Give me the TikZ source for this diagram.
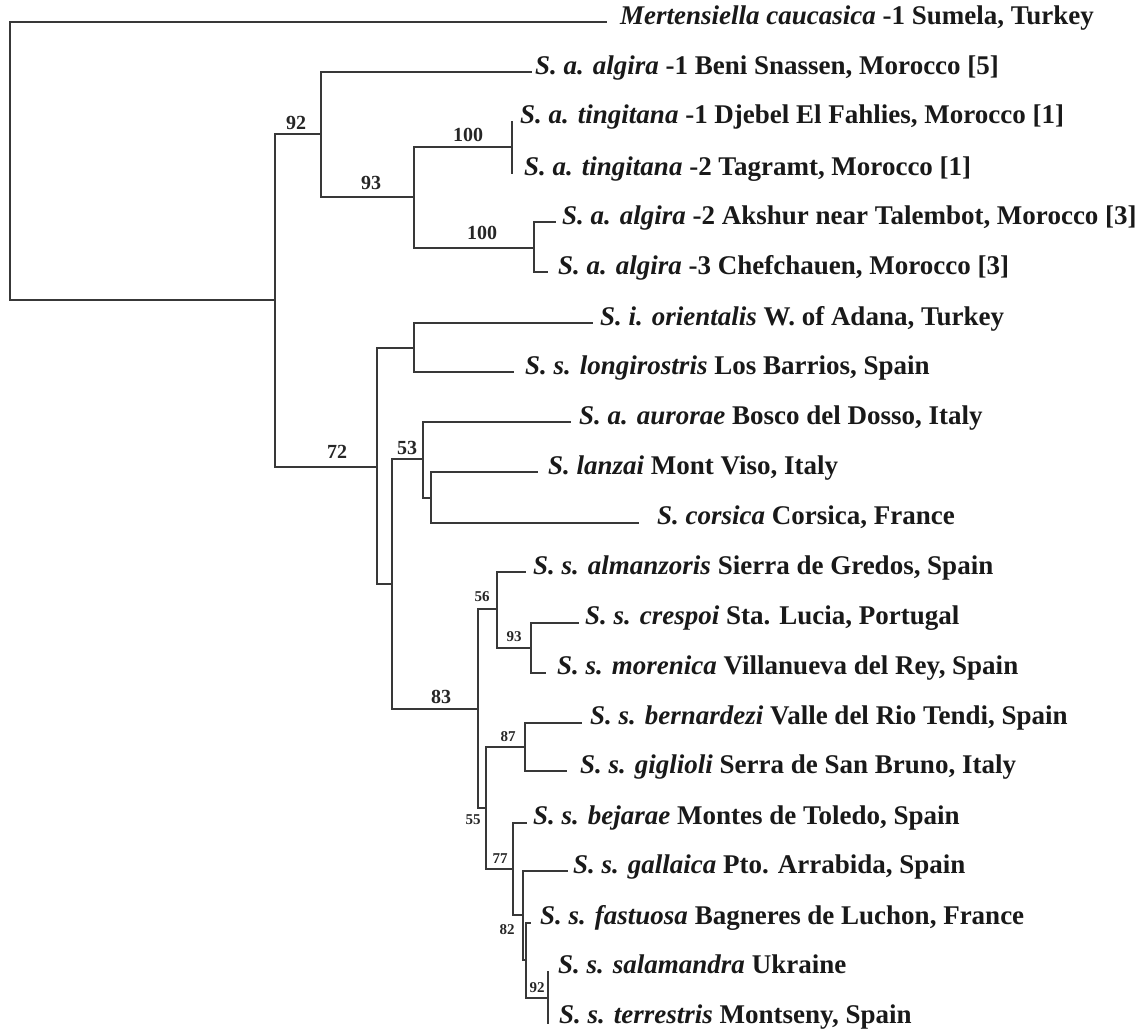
\documentclass[tikz,border=0pt]{standalone}
\usepackage{fontspec}
\setmainfont{Liberation Serif}
\begin{document}
\begin{tikzpicture}[x=1pt,y=-1pt,
  br/.style={draw=black!78, line width=2.4pt, line cap=rect},
  lbl/.style={anchor=mid west, inner sep=0pt, text=black!90, font=\fontsize{27}{30}\selectfont\bfseries},
  lblb/.style={lbl, anchor=base west},
  bs/.style={inner sep=0pt, text=black!85, font=\fontsize{20}{22}\selectfont\bfseries},
  bss/.style={inner sep=0pt, text=black!85, font=\fontsize{15}{17}\selectfont\bfseries}]
\useasboundingbox (0,0) rectangle (1146,1036);
% internal nodes
\coordinate (R) at (10,161);
\coordinate (A) at (275,300);
\coordinate (B) at (321,134);
\coordinate (C) at (414,197);
\coordinate (T) at (512,147);
\coordinate (Q) at (534,248);
\coordinate (D) at (377,467);
\coordinate (E) at (414,348);
\coordinate (F) at (392,584);
\coordinate (G) at (423,459);
\coordinate (H) at (431,498);
\coordinate (I) at (478,709);
\coordinate (J) at (497,609);
\coordinate (K) at (531,648);
\coordinate (U) at (486,808);
\coordinate (L) at (525,747);
\coordinate (M) at (513,869);
\coordinate (N) at (523,915);
\coordinate (P) at (526,960);
\coordinate (O) at (548,998);
% leaves
\coordinate (mert) at (606,22);
\coordinate (alg1) at (531,72);
\coordinate (ting1) at (512,122);
\coordinate (ting2) at (512,173);
\coordinate (alg2) at (555,222);
\coordinate (alg3) at (547,272);
\coordinate (ori) at (592,323);
\coordinate (lon) at (513,372);
\coordinate (aur) at (570,422);
\coordinate (lan) at (537,472);
\coordinate (cor) at (638,523);
\coordinate (alm) at (525,572);
\coordinate (cre) at (578,623);
\coordinate (mor) at (545,673);
\coordinate (ber) at (581,723);
\coordinate (gig) at (566,771);
\coordinate (bej) at (526,823);
\coordinate (gal) at (567,871);
\coordinate (fas) at (530,923);
\coordinate (sal) at (548,972);
\coordinate (ter) at (548,1023);
% branches
\draw[br] (mert) -| (R) |- (A);
\draw[br] (B) -| (A) |- (D);
\draw[br] (alg1) -| (B) |- (C);
\draw[br] (T) -| (C) |- (Q);
\draw[br] (ting1) -- (ting2);
\draw[br] (alg2) -| (Q) |- (alg3);
\draw[br] (E) -| (D) |- (F);
\draw[br] (ori) -| (E) |- (lon);
\draw[br] (G) -| (F) |- (I);
\draw[br] (aur) -| (G) |- (H);
\draw[br] (lan) -| (H) |- (cor);
\draw[br] (J) -| (I) |- (U);
\draw[br] (alm) -| (J) |- (K);
\draw[br] (cre) -| (K) |- (mor);
\draw[br] (L) -| (U) |- (M);
\draw[br] (ber) -| (L) |- (gig);
\draw[br] (bej) -| (M) |- (N);
\draw[br] (gal) -| (N) |- (P);
\draw[br] (fas) -| (P) |- (O);
\draw[br] (sal) -- (ter);
% taxon labels
\node[lbl] (tmert) at (620,22) {\textit{Mertensiella caucasica} -1 Sumela, Turkey};
\node[lbl] (talg1) at (535,72) {\textit{S. a. algira} -1 Beni Snassen, Morocco [5]};
\node[lblb] (tting1) at (520,123) {\textit{S. a. tingitana} -1 Djebel El Fahlies, Morocco [1]};
\node[lblb] (tting2) at (524,175) {\textit{S. a. tingitana} -2 Tagramt, Morocco [1]};
\node[lbl] (talg2) at (562,222) {\textit{S. a. algira} -2 Akshur near Talembot, Morocco [3]};
\node[lbl] (talg3) at (558,272) {\textit{S. a. algira} -3 Chefchauen, Morocco [3]};
\node[lbl] (tori) at (600,323) {\textit{S. i. orientalis} W. of Adana, Turkey};
\node[lbl] (tlon) at (525,372) {\textit{S. s. longirostris} Los Barrios, Spain};
\node[lbl] (taur) at (579,422) {\textit{S. a. aurorae} Bosco del Dosso, Italy};
\node[lbl] (tlan) at (548,472) {\textit{S. lanzai} Mont Viso, Italy};
\node[lbl] (tcor) at (657,522) {\textit{S. corsica} Corsica, France};
\node[lbl] (talm) at (533,572) {\textit{S. s. almanzoris} Sierra de Gredos, Spain};
\node[lbl] (tcre) at (585,622) {\textit{S. s. crespoi} Sta. Lucia, Portugal};
\node[lbl] (tmor) at (557,672) {\textit{S. s. morenica} Villanueva del Rey, Spain};
\node[lbl] (tber) at (590,722) {\textit{S. s. bernardezi} Valle del Rio Tendi, Spain};
\node[lbl] (tgig) at (580,771) {\textit{S. s. giglioli} Serra de San Bruno, Italy};
\node[lbl] (tbej) at (533,822) {\textit{S. s. bejarae} Montes de Toledo, Spain};
\node[lbl] (tgal) at (573,871) {\textit{S. s. gallaica} Pto. Arrabida, Spain};
\node[lbl] (tfas) at (540,922) {\textit{S. s. fastuosa} Bagneres de Luchon, France};
\node[lbl] (tsal) at (558,971) {\textit{S. s. salamandra} Ukraine};
\node[lbl] (tter) at (559,1021) {\textit{S. s. terrestris} Montseny, Spain};
% support values
\node[bs] (s92) at (296,123) {92};
\node[bs] (s93) at (371,183) {93};
\node[bs] (s100a) at (468,135) {100};
\node[bs] (s100b) at (482,233) {100};
\node[bs] (s72) at (337,452) {72};
\node[bs] (s53) at (407,448) {53};
\node[bs] (s83) at (441,697) {83};
\node[bss] (s56) at (482,597) {56};
\node[bss] (s93b) at (514,637) {93};
\node[bss] (s87) at (508,737) {87};
\node[bss] (s55) at (473,820) {55};
\node[bss] (s77) at (500,859) {77};
\node[bss] (s82) at (507,930) {82};
\node[bss] (s92b) at (537,988) {92};
\end{tikzpicture}
\end{document}
